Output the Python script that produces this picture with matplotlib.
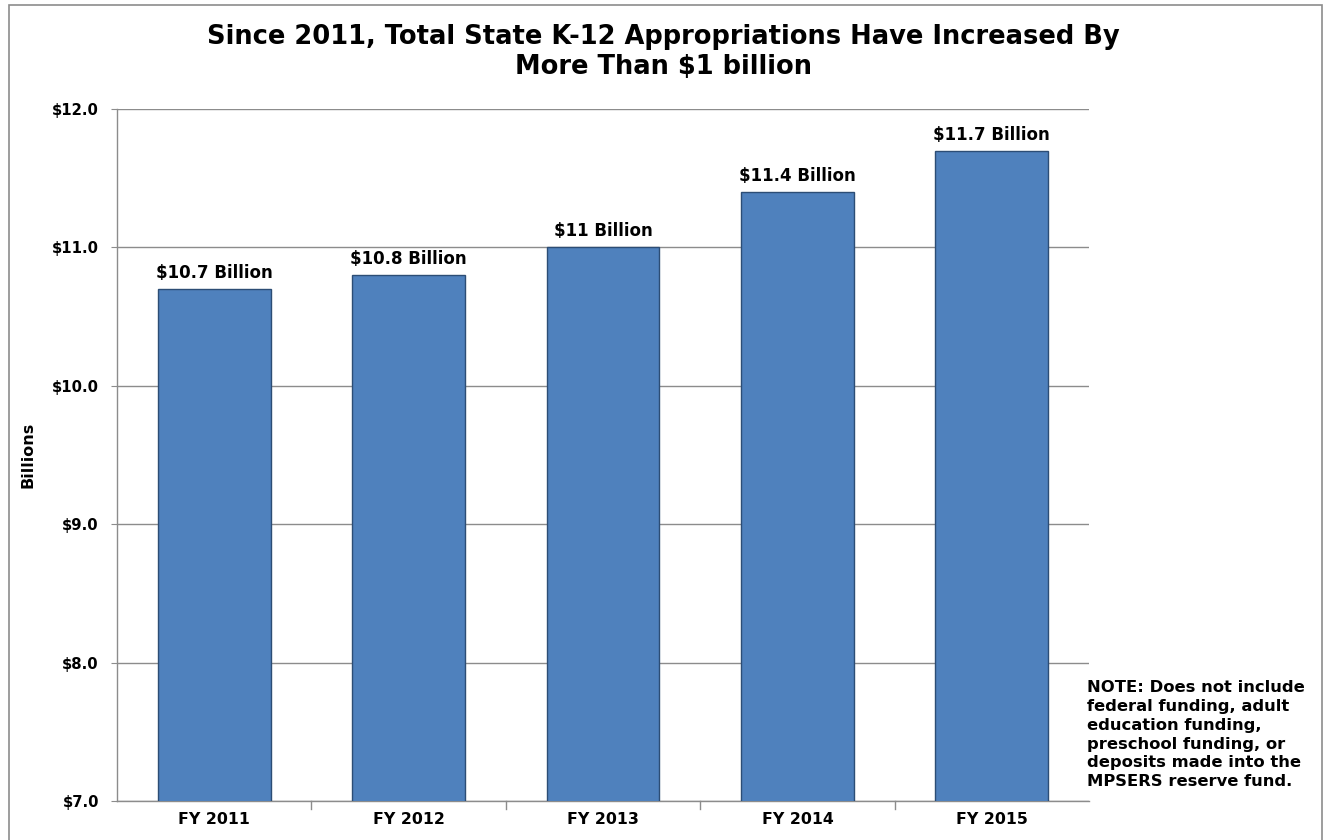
import matplotlib
matplotlib.use("Agg")
import matplotlib.pyplot as plt
from matplotlib.patches import Rectangle

plt.rcParams['font.family'] = ['DejaVu Sans']
plt.rcParams['font.weight'] = 'bold'

categories = ["FY 2011", "FY 2012", "FY 2013", "FY 2014", "FY 2015"]
values = [10.7, 10.8, 11.0, 11.4, 11.7]
value_labels = ["$10.7 Billion", "$10.8 Billion", "$11 Billion", "$11.4 Billion", "$11.7 Billion"]
yticks = [7.0, 8.0, 9.0, 10.0, 11.0, 12.0]
ytick_labels = ["$7.0", "$8.0", "$9.0", "$10.0", "$11.0", "$12.0"]

W, H = 1327, 840
fig = plt.figure(figsize=(W / 100, H / 100), dpi=100)

# outer chart frame
fig.add_artist(Rectangle((9 / W, -0.01), (1322 - 9) / W, 1.01 - 5 / H,
                         transform=fig.transFigure, fill=False,
                         edgecolor="#8c8c8c", linewidth=1.2))

left, right, top, bottom = 117, 1089, 109, 801
ax = fig.add_axes([left / W, 1 - bottom / H, (right - left) / W, (bottom - top) / H])

x = range(len(categories))
ax.bar(x, values, width=0.58, color="#4f81bd", edgecolor="#2c4d75", linewidth=1.0, zorder=3)

ax.set_xlim(-0.5, len(categories) - 0.5)
ax.set_ylim(7.0, 12.0)
ax.set_yticks(yticks)
ax.set_yticklabels(ytick_labels, fontsize=10.7, fontweight='bold')
ax.set_xticks(list(x))
ax.set_xticklabels(categories, fontsize=11.3, fontweight='bold')
ax.tick_params(axis='x', length=0, pad=8)
ax.tick_params(axis='y', length=4, color="#8c8c8c", pad=9)

# category separator ticks on the x axis
for b in [i + 0.5 for i in range(len(categories) - 1)]:
    ax.plot([b, b], [7.0, 6.94], color="#8c8c8c", linewidth=1.0, clip_on=False, zorder=4)

ax.yaxis.grid(True, color="#8c8c8c", linewidth=1.0, zorder=0)
for s in ["top", "right"]:
    ax.spines[s].set_visible(False)
for s in ["left", "bottom"]:
    ax.spines[s].set_color("#8c8c8c")
    ax.spines[s].set_linewidth(1.0)

for xi, v, lab in zip(x, values, value_labels):
    ax.annotate(lab, (xi, v), xytext=(0, 5), textcoords="offset points",
                ha="center", va="bottom", fontsize=12, fontweight="bold", zorder=5)

ax.set_ylabel("Billions", fontsize=11.5, fontweight="bold")
ax.yaxis.set_label_coords((35 - left) / (right - left), 0.5)

fig.text(0.5, 1 - 52 / H, "Since 2011, Total State K-12 Appropriations Have Increased By\nMore Than $1 billion",
         ha="center", va="center", fontsize=18.5, fontweight="bold", linespacing=1.22)

fig.text(1087 / W, 1 - 680 / H,
         "NOTE: Does not include\nfederal funding, adult\neducation funding,\npreschool funding, or\ndeposits made into the\nMPSERS reserve fund.",
         ha="left", va="top", fontsize=11.8, fontweight="bold", linespacing=1.32)

fig.savefig("out.png", dpi=100)
